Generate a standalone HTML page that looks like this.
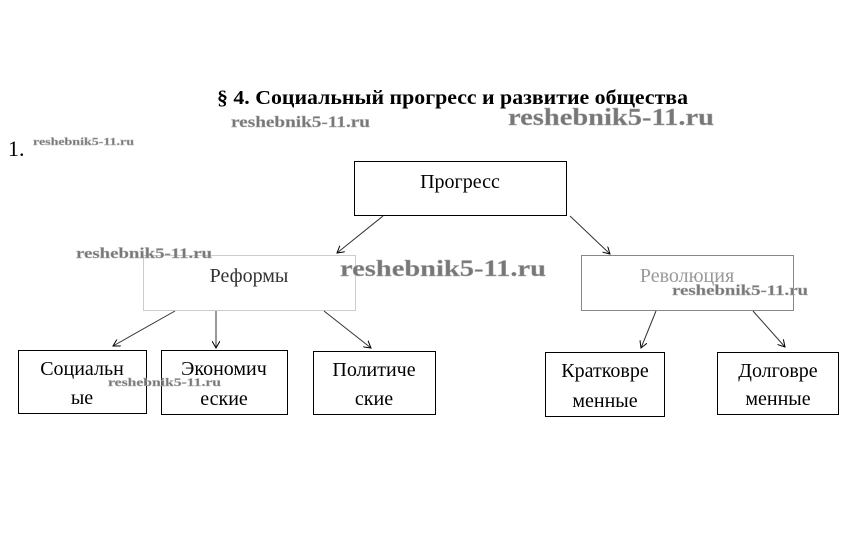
<!DOCTYPE html>
<html><head><meta charset="utf-8"><style>
html,body{margin:0;padding:0;background:#fff;}
svg{display:block}
.t{font-family:"Liberation Serif","DejaVu Serif",serif;fill:#000}
.w{font-family:"Liberation Serif",serif;font-weight:bold;fill:#777;stroke:#aaa;stroke-width:0.4}
</style></head><body>
<svg width="848" height="552" viewBox="0 0 848 552" xmlns="http://www.w3.org/2000/svg">
<defs><marker id="a" markerWidth="8" markerHeight="8" refX="7" refY="4" orient="auto" markerUnits="userSpaceOnUse"><path d="M0,0 L7,4 L0,8" fill="none" stroke="#000" stroke-width="1"/></marker></defs>
<text class="t" x="217" y="104" font-size="20" font-weight="bold" textLength="471" lengthAdjust="spacingAndGlyphs">§ 4. Социальный прогресс и развитие общества</text>
<text class="w" x="231" y="127" font-size="16" textLength="139" lengthAdjust="spacingAndGlyphs">reshebnik5-11.ru</text>
<text class="w" x="508" y="125" font-size="24" textLength="206" lengthAdjust="spacingAndGlyphs">reshebnik5-11.ru</text>
<text class="t" x="8" y="156" font-size="22" fill="#444">1.</text>
<text class="w" x="33" y="145" font-size="11" textLength="101" lengthAdjust="spacingAndGlyphs">reshebnik5-11.ru</text>
<g fill="none" stroke="#000" stroke-width="1">
<rect x="354.5" y="161.5" width="212" height="54"/>
<rect x="143.5" y="255.5" width="212" height="55" stroke="#ccc"/>
<rect x="581.5" y="255.5" width="212" height="55" stroke="#888"/>
<rect x="18.5" y="350.5" width="128" height="63"/>
<rect x="161.5" y="350.5" width="126" height="64"/>
<rect x="313.5" y="351.5" width="122" height="63"/>
<rect x="545.5" y="352.5" width="119" height="64"/>
<rect x="717.5" y="352.5" width="121" height="62"/>
<g marker-end="url(#a)" stroke="#333">
<line x1="383" y1="216" x2="337" y2="253"/>
<line x1="570" y1="216" x2="610" y2="254"/>
<line x1="175" y1="311" x2="113" y2="346"/>
<line x1="216" y1="311" x2="216" y2="348"/>
<line x1="324" y1="311" x2="371" y2="348"/>
<line x1="656" y1="311" x2="641" y2="348"/>
<line x1="753" y1="311" x2="785" y2="347"/>
</g></g>
<g class="t" font-size="20" text-anchor="middle">
<text x="460" y="188">Прогресс</text>
<text x="249" y="282" fill="#333">Реформы</text>
<text x="687" y="282" fill="#999">Революция</text>
<text x="82" y="375">Социальн</text><text x="82" y="404">ые</text>
<text x="224" y="375">Экономич</text><text x="224" y="405">еские</text>
<text x="374" y="376">Политиче</text><text x="374" y="405">ские</text>
<text x="605" y="377">Кратковре</text><text x="605" y="407">менные</text>
<text x="778" y="377">Долговре</text><text x="778" y="405">менные</text>
</g>
<text class="w" x="76" y="258" font-size="15" textLength="136" lengthAdjust="spacingAndGlyphs">reshebnik5-11.ru</text>
<text class="w" x="340" y="276" font-size="23" textLength="206" lengthAdjust="spacingAndGlyphs">reshebnik5-11.ru</text>
<text class="w" x="672" y="295" font-size="15" textLength="136" lengthAdjust="spacingAndGlyphs">reshebnik5-11.ru</text>
<text class="w" x="108" y="386" font-size="12" textLength="113" lengthAdjust="spacingAndGlyphs">reshebnik5-11.ru</text>
</svg>
</body></html>
